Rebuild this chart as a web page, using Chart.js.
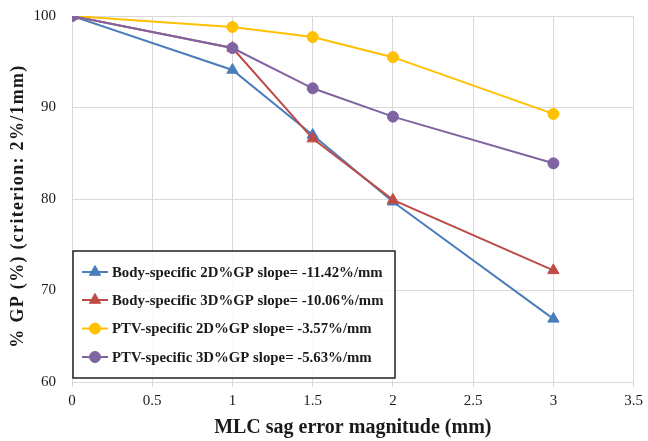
<!DOCTYPE html>
<html>
<head>
<meta charset="utf-8">
<script src="https://cdn.jsdelivr.net/npm/chart.js@4/dist/chart.umd.min.js"></script>
<style>
  html, body { margin: 0; padding: 0; background: #ffffff; }
  #wrap { width: 648px; height: 441px; }
</style>
</head>
<body>
<div id="wrap"><canvas id="c" width="648" height="441"></canvas></div>
<script>
// MLC sag error magnitudes (mm)
const sagErrors = [0, 1, 1.5, 2, 3];

// %GP values per evaluation type
const bodyGP2D = [100, 94.1, 87.0, 79.7, 66.9];
const bodyGP3D = [100, 96.5, 86.6, 79.9, 72.2];
const ptvGP2D  = [100, 98.8, 97.7, 95.5, 89.3];
const ptvGP3D  = [100, 96.5, 92.1, 89.0, 83.9];

const seriesLabels = [
  'Body-specific 2D%GP slope= -11.42%/mm',
  'Body-specific 3D%GP slope= -10.06%/mm',
  'PTV-specific 2D%GP slope= -3.57%/mm',
  'PTV-specific 3D%GP slope= -5.63%/mm'
];

const xTitle = 'MLC sag error magnitude (mm)';
const yTitle = '% GP (%) (criterion: 2%/1mm)';

const SERIF = '"Liberation Serif", "Times New Roman", serif';
const TXT = '#1a1a1a';

function pts(values) {
  return sagErrors.map((x, i) => ({ x: x, y: values[i] }));
}

const styles = [
  { color: '#4a7ebb', shape: 'triangle', r: 6.5, order: 4 },
  { color: '#be4b48', shape: 'triangle', r: 6.5, order: 3 },
  { color: '#ffc000', shape: 'circle',   r: 5.5, order: 2 },
  { color: '#8064a2', shape: 'circle',   r: 5.5, order: 1 }
];

const allSeries = [bodyGP2D, bodyGP3D, ptvGP2D, ptvGP3D];

const datasets = allSeries.map((vals, i) => ({
  label: seriesLabels[i],
  data: pts(vals),
  borderColor: styles[i].color,
  backgroundColor: styles[i].color,
  pointBackgroundColor: styles[i].color,
  pointBorderColor: styles[i].color,
  pointStyle: styles[i].shape,
  pointRadius: styles[i].r,
  pointBorderWidth: 1,
  borderWidth: 2,
  tension: 0,
  order: styles[i].order
}));

// Boxed legend drawn inside the plot area, lower-left
const boxedLegend = {
  id: 'boxedLegend',
  afterDatasetsDraw(chart) {
    const ctx = chart.ctx;
    const area = chart.chartArea;
    const x0 = area.left + 1, y0 = 251, w = 322, h = 127;
    ctx.save();
    ctx.fillStyle = 'rgba(255,255,255,0.85)';
    ctx.fillRect(x0, y0, w, h);
    ctx.lineWidth = 1.5;
    ctx.strokeStyle = '#222222';
    ctx.strokeRect(x0, y0, w, h);
    ctx.font = 'bold 14.8px ' + SERIF;
    ctx.textBaseline = 'middle';
    ctx.textAlign = 'left';
    const rows = [272, 300, 328.5, 357];
    chart.data.datasets.forEach((ds, i) => {
      const y = rows[i];
      ctx.strokeStyle = ds.borderColor;
      ctx.lineWidth = 2;
      ctx.beginPath();
      ctx.moveTo(x0 + 9, y);
      ctx.lineTo(x0 + 35, y);
      ctx.stroke();
      ctx.fillStyle = ds.borderColor;
      ctx.strokeStyle = ds.borderColor;
      ctx.lineWidth = 1;
      Chart.helpers.drawPoint(ctx, { pointStyle: ds.pointStyle, radius: ds.pointRadius, borderWidth: 1, rotation: 0 }, x0 + 22, y);
      ctx.fillStyle = TXT;
      ctx.fillText(ds.label, x0 + 39, y + 1);
    });
    ctx.restore();
  }
};

// Rotated, letter-spaced y-axis title
const yAxisTitle = {
  id: 'yAxisTitle',
  afterDraw(chart) {
    const ctx = chart.ctx;
    ctx.save();
    ctx.translate(18, 206);
    ctx.rotate(-Math.PI / 2);
    ctx.font = 'bold 18px ' + SERIF;
    if ('letterSpacing' in ctx) ctx.letterSpacing = '1.3px';
    ctx.fillStyle = TXT;
    ctx.textAlign = 'center';
    ctx.textBaseline = 'middle';
    ctx.fillText(yTitle, 0, 0);
    ctx.restore();
  }
};

new Chart(document.getElementById('c'), {
  type: 'line',
  data: { datasets: datasets },
  plugins: [boxedLegend, yAxisTitle],
  options: {
    responsive: false,
    animation: false,
    layout: { padding: { left: 0, right: 12, top: 16, bottom: 0 } },
    plugins: {
      legend: { display: false },
      tooltip: { enabled: false }
    },
    scales: {
      x: {
        type: 'linear',
        min: 0,
        max: 3.5,
        afterFit(scale) { scale.height = 59; },
        ticks: {
          stepSize: 0.5,
          color: TXT,
          font: { family: SERIF, size: 15 },
          padding: 5,
          callback: (v) => String(Math.round(v * 10) / 10)
        },
        grid: { color: '#d9d9d9', lineWidth: 1, tickLength: 5 },
        border: { color: '#d9d9d9' },
        title: {
          display: true,
          text: xTitle,
          color: TXT,
          font: { family: SERIF, size: 20, weight: 'bold' },
          padding: { top: 0, bottom: 1 }
        }
      },
      y: {
        min: 60,
        max: 100,
        afterFit(scale) {
          scale.width = 72;
          scale.paddingTop = 0;
          scale.paddingBottom = 0;
        },
        ticks: {
          stepSize: 10,
          color: TXT,
          font: { family: SERIF, size: 15 },
          padding: 16
        },
        grid: { color: '#d9d9d9', lineWidth: 1, drawTicks: false },
        border: { color: '#d9d9d9' }
      }
    }
  }
});
</script>
</body>
</html>
